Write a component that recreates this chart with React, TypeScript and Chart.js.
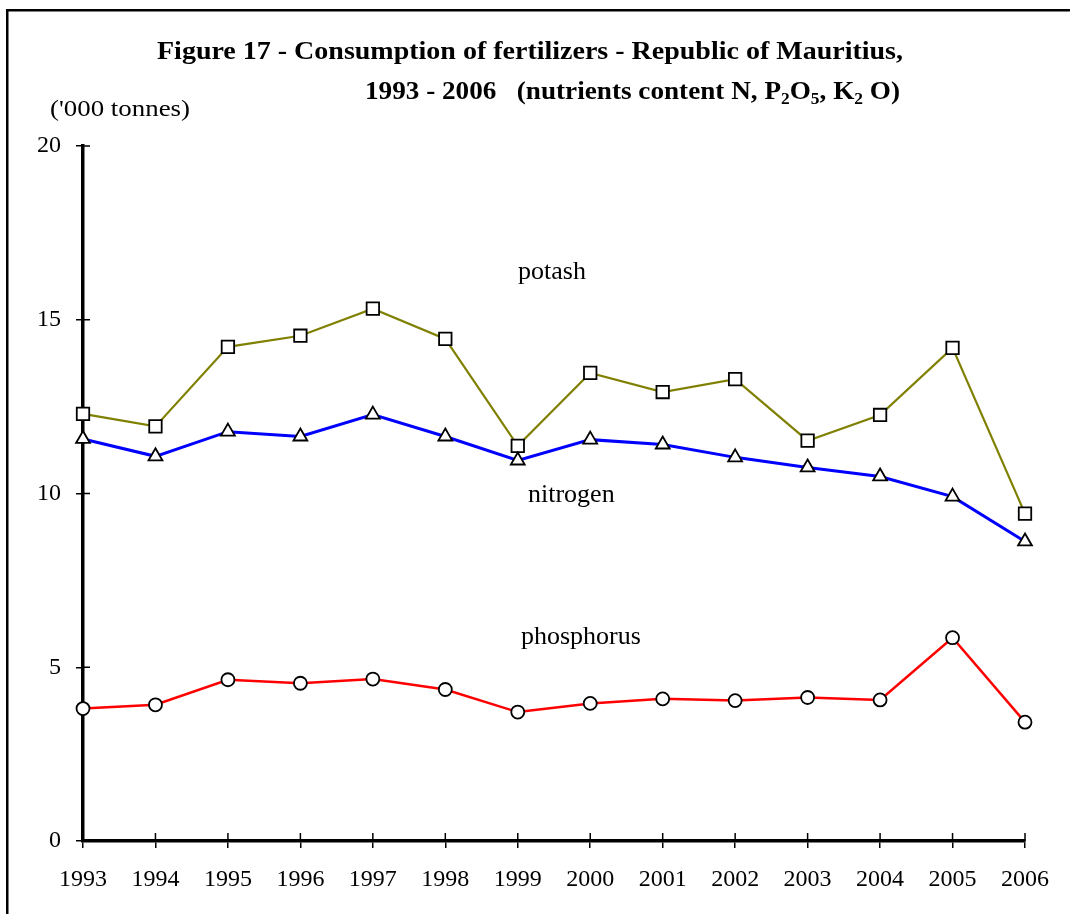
import React, { useEffect, useRef } from 'react';
import { Chart, registerables } from 'chart.js';

Chart.register(...registerables);

// ---- data ----
const years = ['1993', '1994', '1995', '1996', '1997', '1998', '1999', '2000', '2001', '2002', '2003', '2004', '2005', '2006'];
const potash = [12.29, 11.93, 14.22, 14.54, 15.32, 14.45, 11.37, 13.47, 12.92, 13.29, 11.52, 12.26, 14.19, 9.42];
const nitrogen = [11.57, 11.07, 11.78, 11.64, 12.27, 11.64, 10.95, 11.55, 11.41, 11.04, 10.75, 10.49, 9.91, 8.62];
const phosphorus = [3.81, 3.92, 4.64, 4.54, 4.66, 4.36, 3.71, 3.96, 4.09, 4.04, 4.13, 4.06, 5.85, 3.42];
const yMin = 0;
const yMax = 20;
const yStep = 5;

const titleLine1 = 'Figure 17 - Consumption of fertilizers - Republic of Mauritius,';
const titleLine2Parts: { t: string; sub: boolean }[] = [
  { t: '1993 - 2006   (nutrients content N, P', sub: false },
  { t: '2', sub: true },
  { t: 'O', sub: false },
  { t: '5', sub: true },
  { t: ', K', sub: false },
  { t: '2', sub: true },
  { t: ' O)', sub: false },
];
const unitLabel = "('000 tonnes)";
const seriesNames = ['potash', 'nitrogen', 'phosphorus'];

const SERIF = '"Liberation Serif", "Times New Roman", serif';

function drawStretched(ctx: CanvasRenderingContext2D, text: string, left: number, baseline: number, font: string, targetWidth: number) {
  ctx.save();
  ctx.font = font;
  ctx.textBaseline = 'alphabetic';
  ctx.textAlign = 'left';
  const w = ctx.measureText(text).width;
  const s = targetWidth / w;
  ctx.translate(left, baseline);
  ctx.scale(s, 1);
  ctx.fillText(text, 0, 0);
  ctx.restore();
}

const framePlugin = {
  id: 'frame',
  beforeDraw(chart: any) {
    const ctx = chart.ctx as CanvasRenderingContext2D;
    ctx.save();
    ctx.fillStyle = '#fff';
    ctx.fillRect(0, 0, chart.width, chart.height);
    ctx.fillStyle = '#000';
    ctx.fillRect(6, 9, 2.5, chart.height - 9);
    ctx.fillRect(6, 9, chart.width - 6, 2.5);
    ctx.restore();
  },
};

const innerTicksPlugin = {
  id: 'innerTicks',
  beforeDatasetsDraw(chart: any) {
    const ctx = chart.ctx as CanvasRenderingContext2D;
    const { x, y } = chart.scales;
    const area = chart.chartArea;
    ctx.save();
    ctx.strokeStyle = '#000';
    ctx.lineWidth = 1.5;
    x.ticks.forEach((_: any, i: number) => {
      const px = x.getPixelForTick(i);
      ctx.beginPath();
      ctx.moveTo(px, area.bottom);
      ctx.lineTo(px, area.bottom - 8);
      ctx.stroke();
    });
    y.ticks.forEach((_: any, i: number) => {
      const py = y.getPixelForTick(i);
      ctx.beginPath();
      ctx.moveTo(area.left, py);
      ctx.lineTo(area.left + 7, py);
      ctx.stroke();
    });
    ctx.restore();
  },
};

const textPlugin = {
  id: 'texts',
  afterDraw(chart: any) {
    const ctx = chart.ctx as CanvasRenderingContext2D;
    ctx.save();
    ctx.fillStyle = '#000';
    // title line 1
    drawStretched(ctx, titleLine1, 157, 59, `bold 25px ${SERIF}`, 746);
    // title line 2 with subscripts
    const mainFont = `bold 25px ${SERIF}`;
    const subFont = `bold 16px ${SERIF}`;
    let total = 0;
    const widths = titleLine2Parts.map((p) => {
      ctx.font = p.sub ? subFont : mainFont;
      const w = ctx.measureText(p.t).width;
      total += w;
      return w;
    });
    const s2 = 535 / total;
    ctx.save();
    ctx.translate(365, 99);
    ctx.scale(s2, 1);
    let cx = 0;
    titleLine2Parts.forEach((p, i) => {
      ctx.font = p.sub ? subFont : mainFont;
      ctx.textBaseline = 'alphabetic';
      ctx.textAlign = 'left';
      ctx.fillText(p.t, cx, p.sub ? 5 : 0);
      cx += widths[i];
    });
    ctx.restore();
    // unit label
    drawStretched(ctx, unitLabel, 50, 116, `24px ${SERIF}`, 140);
    // series labels
    ctx.font = `26px ${SERIF}`;
    ctx.textAlign = 'left';
    ctx.textBaseline = 'alphabetic';
    ctx.fillText(seriesNames[0], 518, 279);
    ctx.fillText(seriesNames[1], 528, 502);
    ctx.fillText(seriesNames[2], 521, 644);
    ctx.restore();
  },
};

export default function App() {
  const canvasRef = useRef<HTMLCanvasElement | null>(null);

  useEffect(() => {
    const canvas = canvasRef.current;
    if (!canvas) return;
    const chart = new Chart(canvas, {
      type: 'line',
      data: {
        labels: years,
        datasets: [
          {
            label: seriesNames[2],
            data: phosphorus,
            borderColor: '#ff0000',
            borderWidth: 2.5,
            pointStyle: 'circle',
            pointRadius: 6.5,
            pointBorderWidth: 1.8,
            pointBorderColor: '#000',
            pointBackgroundColor: '#fff',
            tension: 0,
            clip: false as any,
          },
          {
            label: seriesNames[1],
            data: nitrogen,
            borderColor: '#0000ff',
            borderWidth: 3,
            pointStyle: 'triangle',
            pointRadius: 8,
            pointBorderWidth: 1.8,
            pointBorderColor: '#000',
            pointBackgroundColor: '#fff',
            tension: 0,
            clip: false as any,
          },
          {
            label: seriesNames[0],
            data: potash,
            borderColor: '#808000',
            borderWidth: 2.2,
            pointStyle: 'rect',
            pointRadius: 8.8,
            pointBorderWidth: 1.8,
            pointBorderColor: '#000',
            pointBackgroundColor: '#fff',
            tension: 0,
            clip: false as any,
          },
        ],
      },
      options: {
        responsive: false,
        animation: false,
        devicePixelRatio: 1,
        layout: { padding: { left: 0, top: 146, right: 45, bottom: 0 } },
        plugins: {
          legend: { display: false },
          title: { display: false },
          tooltip: { enabled: false },
        },
        scales: {
          x: {
            type: 'category',
            offset: false,
            grid: { drawOnChartArea: false, drawTicks: true, tickLength: 7, color: '#000', lineWidth: 1.5 },
            border: { display: true, color: '#000', width: 3.5 },
            ticks: {
              color: '#000',
              font: { family: SERIF, size: 24 },
              padding: 17,
              maxRotation: 0,
              autoSkip: false,
            },
            afterFit: (scale: any) => {
              scale.height = 73;
            },
          },
          y: {
            min: yMin,
            max: yMax,
            grid: { drawOnChartArea: false, drawTicks: true, tickLength: 7, color: '#000', lineWidth: 1.5 },
            border: { display: true, color: '#000', width: 3.5 },
            ticks: {
              stepSize: yStep,
              color: '#000',
              font: { family: SERIF, size: 24 },
              padding: 15,
            },
            afterFit: (scale: any) => {
              scale.width = 83;
            },
          },
        },
      },
      plugins: [framePlugin, innerTicksPlugin, textPlugin],
    });
    return () => chart.destroy();
  }, []);

  return (
    <div style={{ position: 'fixed', left: 0, top: 0, width: 1070, height: 914, overflow: 'hidden', background: '#fff' }}>
      <canvas ref={canvasRef} width={1070} height={914} style={{ display: 'block', width: 1070, height: 914 }} />
    </div>
  );
}
